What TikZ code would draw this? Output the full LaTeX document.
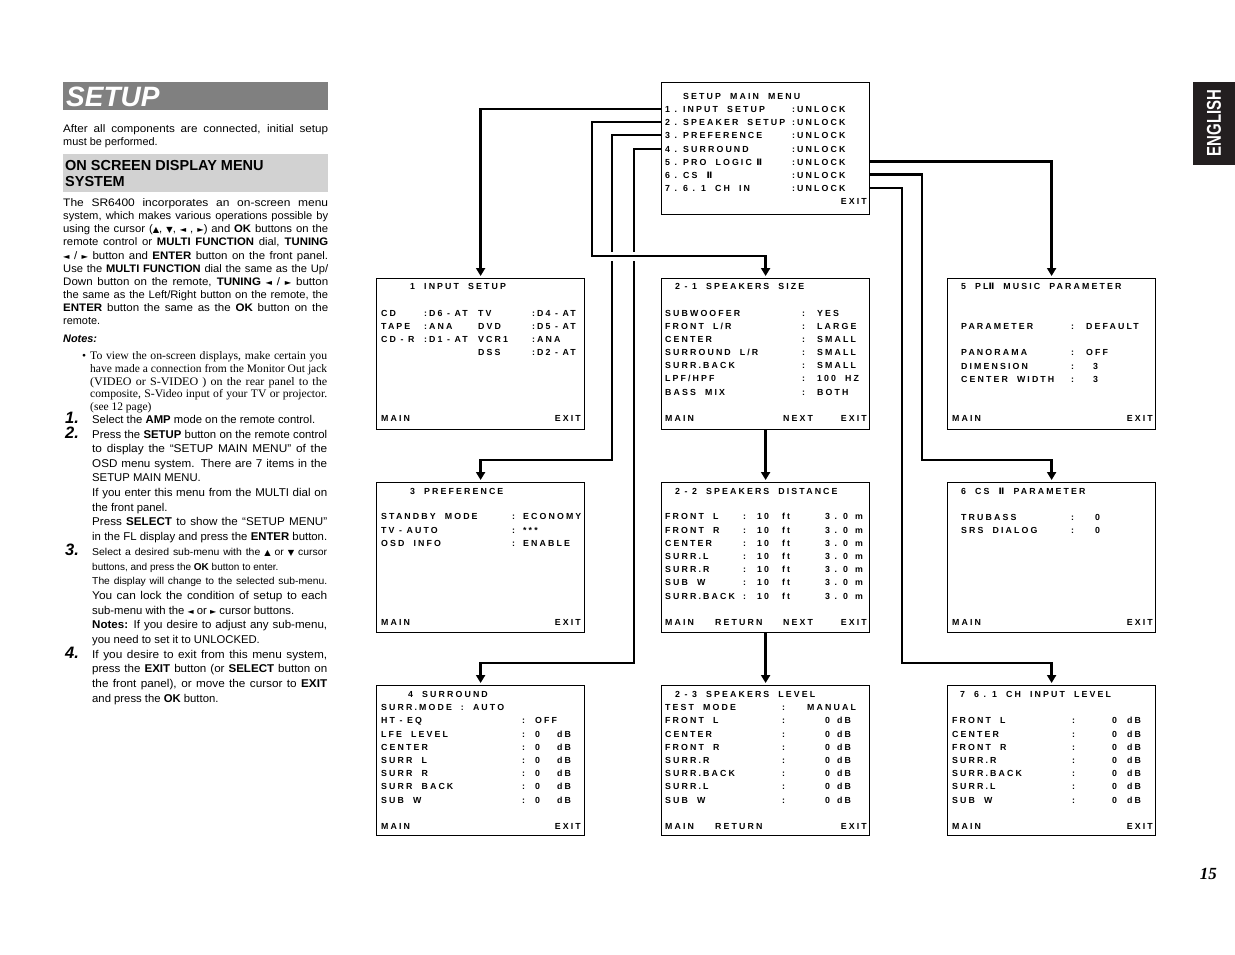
\documentclass[tikz,border=0pt]{standalone}
\usepackage{graphicx}
\usepackage{fontspec}
\setmainfont{Liberation Sans}
\newfontfamily\osdfont{Liberation Sans}[LetterSpace=24]
\newfontfamily\tms{Liberation Serif}
\newfontfamily\symf{DejaVu Sans}
\usetikzlibrary{arrows.meta,calc}
\definecolor{bannergray}{HTML}{808080}
\definecolor{headgray}{HTML}{D2D2D2}
\definecolor{tabblack}{HTML}{231F20}
% justified line: widen the glyphs a little, then the word spaces
\newsavebox\jlbox
\newdimen\jlw
\newcommand\jl[2]{%
  \sbox\jlbox{#2}\jlw=\wd\jlbox
  \ifdim\jlw>#1pt\relax
    \resizebox{#1pt}{\height}{\usebox\jlbox}%
  \else
    \pgfmathsetmacro\jlwv{\the\jlw}%
    \pgfmathsetmacro\jlf{min(1.12,1+0.5*(#1-\jlwv)/\jlwv)}%
    \pgfmathsetmacro\jlin{#1/\jlf}%
    \scalebox{\jlf}[1]{\makebox[\jlin pt][s]{#2}}%
  \fi}
\newcommand\sym[1]{{\symf\fontsize{8}{8}\selectfont#1}}
\newcommand\rn{{\symf\bfseries Ⅱ}}
\newcommand\sla{/}

\begin{document}
\begin{tikzpicture}[x=1pt,y=-1pt,
  osdtext/.style={font=\osdfont\bfseries\fontsize{8.8}{10}\selectfont, inner sep=0pt, anchor=base west},
  osdright/.style={osdtext, anchor=base east},
  screen/.style={draw, line width=1.2pt, minimum width=208pt, minimum height=151pt, anchor=north west, inner sep=0pt},
  link/.style={line width=2.8pt, -{Triangle[width=9pt,length=8pt]}, shorten >=2pt},
  bodyline/.style={font=\fontsize{10.9}{13}\selectfont, inner sep=0pt, anchor=base west},
  stepline/.style={font=\fontsize{11.3}{14}\selectfont, inner sep=0pt, anchor=base west},
  smallline/.style={font=\fontsize{10}{12}\selectfont, inner sep=0pt, anchor=base west},
  noteline/.style={font=\tms\fontsize{11.5}{13}\selectfont, inner sep=0pt, anchor=base west},
  stepnum/.style={font=\fontsize{16.5}{18}\selectfont\bfseries\itshape, inner sep=0pt, anchor=base west},
  headline/.style={font=\fontsize{14.5}{16}\selectfont\bfseries, inner sep=0pt, anchor=base west}]
\useasboundingbox (0,0) rectangle (1235,954);
\fill[white] (0,0) rectangle (1235,954);

% left column
\fill[bannergray] (63,82) rectangle (328,110);
\node[font=\fontsize{28}{28}\selectfont\bfseries\itshape, text=white, inner sep=0pt, anchor=base west] (title) at (66,106) {SETUP};
\node[bodyline] (intro1) at (63,132) {\jl{265}{After all components are connected, initial setup}};
\node[bodyline] (intro2) at (63,145) {must be performed.};
\fill[headgray] (63,154) rectangle (328,192);
\node[headline] (head1) at (65,170) {ON SCREEN DISPLAY MENU};
\node[headline] (head2) at (65,186) {SYSTEM};
\node[bodyline] (body1) at (63,206) {\jl{265}{The SR6400 incorporates an on-screen menu}};
\node[bodyline] (body2) at (63,219) {\jl{265}{system, which makes various operations possible by}};
\node[bodyline] (body3) at (63,232) {\jl{265}{using the cursor (\sym{▲}, \sym{▼}, \sym{◄} , \sym{►}) and \textbf{OK} buttons on the}};
\node[bodyline] (body4) at (63,245) {\jl{265}{remote control or \textbf{MULTI FUNCTION} dial, \textbf{TUNING}}};
\node[bodyline] (body5) at (63,259) {\jl{265}{\sym{◄} / \sym{►} button and \textbf{ENTER} button on the front panel.}};
\node[bodyline] (body6) at (63,272) {\jl{265}{Use the \textbf{MULTI FUNCTION} dial the same as the Up/}};
\node[bodyline] (body7) at (63,285) {\jl{265}{Down button on the remote, \textbf{TUNING} \sym{◄} / \sym{►} button}};
\node[bodyline] (body8) at (63,298) {\jl{265}{the same as the Left/Right button on the remote, the}};
\node[bodyline] (body9) at (63,311) {\jl{265}{\textbf{ENTER} button the same as the \textbf{OK} button on the}};
\node[bodyline] (body10) at (63,324) {remote.};
\node[bodyline, font=\fontsize{10.9}{13}\selectfont\bfseries\itshape] (notes) at (63,342) {Notes:};
\node[noteline] (bullet) at (82,359) {•};
\node[noteline] (note1) at (90,359) {\jl{237}{To view the on-screen displays, make certain you}};
\node[noteline] (note2) at (90,372) {\jl{237}{have made a connection from the Monitor Out jack}};
\node[noteline] (note3) at (90,385) {\jl{237}{(VIDEO or S-VIDEO ) on the rear panel to the}};
\node[noteline] (note4) at (90,397) {\jl{237}{composite, S-Video input of your TV or projector.}};
\node[noteline] (note5) at (90,410) {(see 12 page)};
\node[stepnum] (num1) at (65,423) {1.};
\node[stepline] (st1a) at (92,423) {Select the \textbf{AMP} mode on the remote control.};
\node[stepnum] (num2) at (65,438) {2.};
\node[stepline] (st2a) at (92,438) {\jl{235}{Press the \textbf{SETUP} button on the remote control}};
\node[stepline] (st2b) at (92,452) {\jl{235}{to display the “SETUP MAIN MENU” of the}};
\node[stepline] (st2c) at (92,467) {\jl{235}{OSD menu system. There are 7 items in the}};
\node[stepline] (st2d) at (92,481) {SETUP MAIN MENU.};
\node[stepline] (st2e) at (92,496) {\jl{235}{If you enter this menu from the MULTI dial on}};
\node[stepline] (st2f) at (92,511) {the front panel.};
\node[stepline] (st2g) at (92,525) {\jl{235}{Press \textbf{SELECT} to show the “SETUP MENU”}};
\node[stepline] (st2h) at (92,540) {\jl{235}{in the FL display and press the \textbf{ENTER} button.}};
\node[stepnum] (num3) at (65,555) {3.};
\node[smallline] (st3a) at (92,555) {\jl{235}{Select a desired sub-menu with the \sym{▲} or \sym{▼} cursor}};
\node[smallline] (st3b) at (92,570) {buttons, and press the \textbf{OK} button to enter.};
\node[smallline] (st3c) at (92,584) {\jl{235}{The display will change to the selected sub-menu.}};
\node[stepline] (st3d) at (92,599) {\jl{235}{You can lock the condition of setup to each}};
\node[stepline] (st3e) at (92,614) {sub-menu with the \sym{◄} or \sym{►} cursor buttons.};
\node[stepline] (st3f) at (92,628) {\jl{235}{\textbf{Notes:} If you desire to adjust any sub-menu,}};
\node[stepline] (st3g) at (92,643) {you need to set it to UNLOCKED.};
\node[stepnum] (num4) at (65,658) {4.};
\node[stepline] (st4a) at (92,658) {\jl{235}{If you desire to exit from this menu system,}};
\node[stepline] (st4b) at (92,672) {\jl{235}{press the \textbf{EXIT} button (or \textbf{SELECT} button on}};
\node[stepline] (st4c) at (92,687) {\jl{235}{the front panel), or move the cursor to \textbf{EXIT}}};
\node[stepline] (st4d) at (92,702) {and press the \textbf{OK} button.};

% setup main menu
\node[screen, minimum height=132pt] (mainmenu) at (661,82) {};
\node[osdtext] (mtitle) at (683,99) {SETUP~ MAIN~ MENU};
\foreach \y/\t [count=\i] in {112/1 . INPUT~ SETUP, 125/2 . SPEAKER~ SETUP, 138/3 . PREFERENCE, 152/4 . SURROUND, 165/5 . PRO~ LOGIC \rn, 178/6 . CS~ \rn, 191/7 . 6 . 1~ CH~ IN} {
  \node[osdtext] (r\i) at (665,\y) {\t};
  \node[osdtext] (u\i) at (792,\y) {:UNLOCK};
}
\node[osdright] (mexit) at (867,204) {EXIT};

% 1 input setup
\node[screen] (inputsetup) at (376,278) {};
\node[osdtext] (t1) at (410,289) {1~ INPUT~ SETUP};
\foreach \y/\a/\b/\c/\d [count=\i] in {316/CD/:D6 - AT/TV/:D4 - AT, 329/TAPE/:ANA/DVD/:D5 - AT, 342/CD - R/:D1 - AT/VCR1/:ANA} {
  \node[osdtext] (ia\i) at (381,\y) {\a};
  \node[osdtext] (ib\i) at (424,\y) {\b};
  \node[osdtext] (ic\i) at (478,\y) {\c};
  \node[osdtext] (id\i) at (532,\y) {\d};
}
\node[osdtext] (ic4) at (478,355) {DSS};
\node[osdtext] (id4) at (532,355) {:D2 - AT};
\node[osdtext] (imain) at (381,421) {MAIN};
\node[osdright] (iexit) at (581,421) {EXIT};

% 2-1 speakers size
\node[screen] (spsize) at (661,278) {};
\node[osdtext] (t21) at (675,289) {2 - 1~ SPEAKERS~ SIZE};
\foreach \y/\l/\v [count=\i] in {316/SUBWOOFER/YES, 329/FRONT~ L\sla R/LARGE, 342/CENTER/SMALL, 355/SURROUND~ L\sla R/SMALL, 368/SURR.BACK/SMALL, 381/LPF\sla HPF/100~ HZ, 395/BASS~ MIX/BOTH} {
  \node[osdtext] (sl\i) at (665,\y) {\l};
  \node[osdtext] (sc\i) at (802,\y) {:};
  \node[osdtext] (sv\i) at (817,\y) {\v};
}
\node[osdtext] (smain) at (665,421) {MAIN};
\node[osdtext] (snext) at (783,421) {NEXT};
\node[osdright] (sexit) at (867,421) {EXIT};

% 5 pl2 music parameter
\node[screen] (plmusic) at (947,278) {};
\node[osdtext] (t5) at (961,289) {5~ PL\rn~ MUSIC~ PARAMETER};
\foreach \y/\l/\v/\x [count=\i] in {329/PARAMETER/DEFAULT/1086, 355/PANORAMA/OFF/1086, 369/DIMENSION/3/1093, 382/CENTER~ WIDTH/3/1093} {
  \node[osdtext] (pl\i) at (961,\y) {\l};
  \node[osdtext] (pc\i) at (1071,\y) {:};
  \node[osdtext] (pv\i) at (\x,\y) {\v};
}
\node[osdtext] (pmain) at (952,421) {MAIN};
\node[osdright] (pexit) at (1153,421) {EXIT};

% 3 preference
\node[screen, minimum height=150pt] (pref) at (376,482) {};
\node[osdtext] (t3) at (410,494) {3~ PREFERENCE};
\foreach \y/\l/\v [count=\i] in {519/STANDBY~ MODE/ECONOMY, 533/TV - AUTO/***, 546/OSD~ INFO/ENABLE} {
  \node[osdtext] (fl\i) at (381,\y) {\l};
  \node[osdtext] (fc\i) at (512,\y) {:};
  \node[osdtext] (fv\i) at (523,\y) {\v};
}
\node[osdtext] (fmain) at (381,625) {MAIN};
\node[osdright] (fexit) at (581,625) {EXIT};

% 2-2 speakers distance
\node[screen, minimum height=150pt] (spdist) at (661,482) {};
\node[osdtext] (t22) at (675,494) {2 - 2~ SPEAKERS~ DISTANCE};
\foreach \y/\l [count=\i] in {519/FRONT~ L, 533/FRONT~ R, 546/CENTER, 559/SURR.L, 572/SURR.R, 585/SUB~ W, 599/SURR.BACK} {
  \node[osdtext] (dl\i) at (665,\y) {\l};
  \node[osdtext] (dc\i) at (743,\y) {:};
  \node[osdtext] (dv\i) at (757,\y) {10};
  \node[osdtext] (df\i) at (782,\y) {ft};
  \node[osdtext] (dm\i) at (825,\y) {3 . 0};
  \node[osdtext] (du\i) at (855,\y) {m};
}
\node[osdtext] (dmain) at (665,625) {MAIN};
\node[osdtext] (dret) at (715,625) {RETURN};
\node[osdtext] (dnext) at (783,625) {NEXT};
\node[osdright] (dexit) at (867,625) {EXIT};

% 6 cs2 parameter
\node[screen, minimum height=150pt] (csparam) at (947,482) {};
\node[osdtext] (t6) at (961,494) {6~ CS~ \rn~ PARAMETER};
\foreach \y/\l [count=\i] in {520/TRUBASS, 533/SRS~ DIALOG} {
  \node[osdtext] (cl\i) at (961,\y) {\l};
  \node[osdtext] (cc\i) at (1071,\y) {:};
  \node[osdtext] (cv\i) at (1095,\y) {0};
}
\node[osdtext] (cmain) at (952,625) {MAIN};
\node[osdright] (cexit) at (1153,625) {EXIT};

% 4 surround
\node[screen, minimum height=150pt] (surround) at (376,685) {};
\node[osdtext] (t4) at (408,697) {4~ SURROUND};
\node[osdtext] (smode) at (381,710) {SURR.MODE~ :~ AUTO};
\node[osdtext] (ol0) at (381,723) {HT - EQ};
\node[osdtext] (oc0) at (522,723) {:};
\node[osdtext] (ov0) at (535,723) {OFF};
\foreach \y/\l [count=\i] in {737/LFE~ LEVEL, 750/CENTER, 763/SURR~ L, 776/SURR~ R, 789/SURR~ BACK, 803/SUB~ W} {
  \node[osdtext] (ol\i) at (381,\y) {\l};
  \node[osdtext] (oc\i) at (522,\y) {:};
  \node[osdtext] (ov\i) at (535,\y) {0};
  \node[osdtext] (od\i) at (557,\y) {dB};
}
\node[osdtext] (omain) at (381,829) {MAIN};
\node[osdright] (oexit) at (581,829) {EXIT};

% 2-3 speakers level
\node[screen, minimum height=150pt] (splevel) at (661,685) {};
\node[osdtext] (t23) at (675,697) {2 - 3~ SPEAKERS~ LEVEL};
\node[osdtext] (ltest) at (665,710) {TEST~ MODE};
\node[osdtext] (ltestc) at (782,710) {:};
\node[osdtext] (ltestv) at (807,710) {MANUAL};
\foreach \y/\l [count=\i] in {723/FRONT~ L, 737/CENTER, 750/FRONT~ R, 763/SURR.R, 776/SURR.BACK, 789/SURR.L, 803/SUB~ W} {
  \node[osdtext] (ll\i) at (665,\y) {\l};
  \node[osdtext] (lc\i) at (782,\y) {:};
  \node[osdtext] (lv\i) at (825,\y) {0};
  \node[osdtext] (ld\i) at (837,\y) {dB};
}
\node[osdtext] (lmain) at (665,829) {MAIN};
\node[osdtext] (lret) at (715,829) {RETURN};
\node[osdright] (lexit) at (867,829) {EXIT};

% 7 6.1 ch input level
\node[screen, minimum height=150pt] (chlevel) at (947,685) {};
\node[osdtext] (t7) at (960,697) {7~ 6 . 1~ CH~ INPUT~ LEVEL};
\foreach \y/\l [count=\i] in {723/FRONT~ L, 737/CENTER, 750/FRONT~ R, 763/SURR.R, 776/SURR.BACK, 789/SURR.L, 803/SUB~ W} {
  \node[osdtext] (hl\i) at (952,\y) {\l};
  \node[osdtext] (hc\i) at (1072,\y) {:};
  \node[osdtext] (hv\i) at (1112,\y) {0};
  \node[osdtext] (hd\i) at (1127,\y) {dB};
}
\node[osdtext] (hmain) at (952,829) {MAIN};
\node[osdright] (hexit) at (1153,829) {EXIT};

% connectors
\coordinate (bend2) at (592,256);
\coordinate (bend3) at (612,460);
\coordinate (bend4) at (634,663);
\coordinate (bend6) at (922,460);
\coordinate (bend7) at (902,663);
\draw[link] (mainmenu.west |- r1) -| (inputsetup.north);
\draw[link] (mainmenu.west |- r3) -| (bend3) -| (pref.north);
\draw[link] (mainmenu.west |- r4) -| (bend4) -| (surround.north);
\draw[white, line width=9pt] ($(bend2)+(8,0)$) -- ($(bend2 -| spsize.north)+(-8,0)$);
\draw[link] (mainmenu.west |- r2) -| (bend2) -| (spsize.north);
\draw[link] (mainmenu.east |- r5) -| (plmusic.north);
\draw[link] (mainmenu.east |- r6) -| (bend6) -| (csparam.north);
\draw[link] (mainmenu.east |- r7) -| (bend7) -| (chlevel.north);
\draw[link] (spsize.south) -- (spdist.north);
\draw[link] (spdist.south) -- (splevel.north);

% language tab and page number
\fill[tabblack] (1193,82) rectangle (1235,165);
\node[rotate=90, text=white, font=\fontsize{20}{20}\selectfont\bfseries, inner sep=0pt] (lang) at (1214,123) {\scalebox{0.75}[1]{ENGLISH}};
\node[font=\tms\fontsize{17}{17}\selectfont\bfseries\itshape, inner sep=0pt, anchor=base east] (page) at (1217,879) {15};
\end{tikzpicture}
\end{document}
